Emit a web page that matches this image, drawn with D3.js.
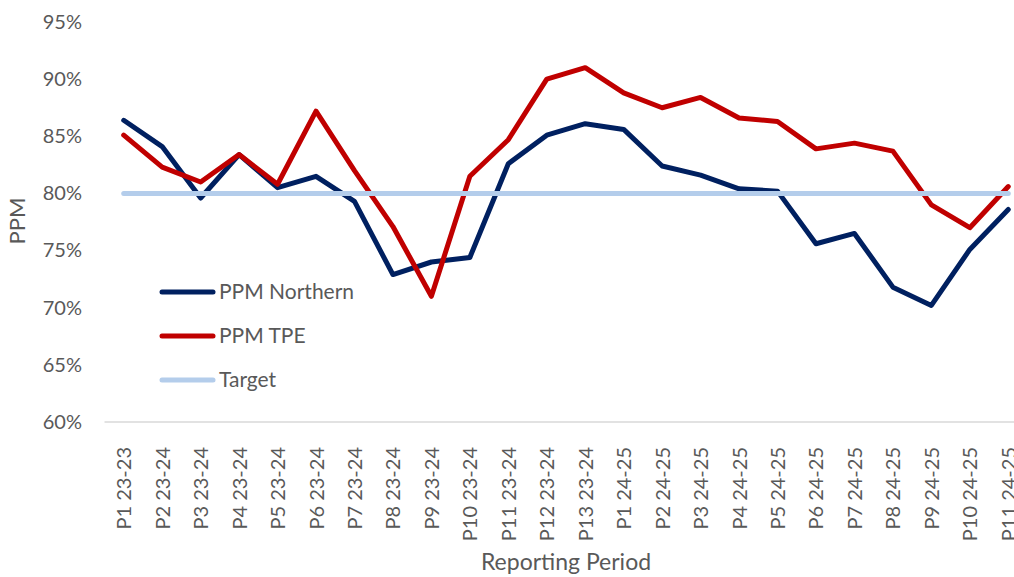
<!DOCTYPE html>
<html><head><meta charset="utf-8">
<script src="https://cdn.jsdelivr.net/npm/d3@7"></script>
<style>body{margin:0;background:#fff;}svg{display:block;}</style>
</head><body>
<svg id="c" width="1014" height="577"></svg>
<script>
const categories = ["P1 23-23","P2 23-24","P3 23-24","P4 23-24","P5 23-24","P6 23-24","P7 23-24","P8 23-24","P9 23-24","P10 23-24","P11 23-24","P12 23-24","P13 23-24","P1 24-25","P2 24-25","P3 24-25","P4 24-25","P5 24-25","P6 24-25","P7 24-25","P8 24-25","P9 24-25","P10 24-25","P11 24-25"];
const northern = [86.4,84.1,79.6,83.4,80.5,81.5,79.3,72.9,74.0,74.4,82.6,85.1,86.1,85.6,82.4,81.6,80.4,80.2,75.6,76.5,71.8,70.2,75.1,78.6];
const tpe = [85.1,82.3,81.0,83.4,80.8,87.2,82.0,77.1,71.0,81.5,84.7,90.0,91.0,88.8,87.5,88.4,86.6,86.3,83.9,84.4,83.7,79.0,77.0,80.6];
const target = categories.map(() => 80);
const yTicks = [60,65,70,75,80,85,90,95];
const seriesNames = ["PPM Northern","PPM TPE","Target"];
const seriesColors = ["#002060","#C00000","#B4CDEB"];

const svg = d3.select("#c");
const font = "Lato, 'Open Sans', sans-serif";
const x = d3.scalePoint().domain(categories).range([104.5, 1027.5]).padding(0.5);
const y = d3.scaleLinear().domain([60,95]).range([422,22]);

// y tick labels
const yAxis = d3.axisLeft(y).tickValues(yTicks).tickFormat(d => d + "%").tickSize(0).tickPadding(0);
const gy = svg.append("g").attr("transform","translate(82,0)").call(yAxis);
gy.select(".domain").remove();
gy.selectAll("text").attr("font-family",font).attr("font-size",20).attr("fill","#595959");

// x axis
const xAxis = d3.axisBottom(x).tickSize(0).tickPadding(0);
const gx = svg.append("g").attr("transform","translate(0,422)").call(xAxis);
gx.select(".domain").attr("stroke","#D9D9D9").attr("stroke-width",1.5).attr("d","M104.5,0H1027.5");
gx.selectAll("text").attr("font-family",font).attr("font-size",20).attr("fill","#595959")
  .attr("transform","rotate(-90)").attr("text-anchor","end").attr("dy","0.35em").attr("x",-25).attr("y",0);

// axis titles
svg.append("text").attr("transform","translate(25,221) rotate(-90)").attr("text-anchor","middle")
  .attr("font-family",font).attr("font-size",22).attr("fill","#595959").text("PPM");
svg.append("text").attr("x",566).attr("y",570).attr("text-anchor","middle")
  .attr("font-family",font).attr("font-size",23).attr("fill","#595959").text("Reporting Period");

// lines
const line = d3.line().x((d,i) => x(categories[i])).y(d => y(d));
const data = [northern, tpe, target];
[0,1,2].forEach(k => {
  svg.append("path").datum(data[k]).attr("d", line).attr("fill","none")
    .attr("stroke", seriesColors[k]).attr("stroke-width", 5)
    .attr("stroke-linejoin","round").attr("stroke-linecap","round");
});
// legend
const lg = svg.append("g");
seriesNames.forEach((n,i) => {
  const yy = 292 + i*44;
  lg.append("line").attr("x1",162).attr("x2",213).attr("y1",yy).attr("y2",yy)
    .attr("stroke",seriesColors[i]).attr("stroke-width",5).attr("stroke-linecap","round");
  lg.append("text").attr("x",219).attr("y",yy).attr("dy","0.35em")
    .attr("font-family",font).attr("font-size",21).attr("fill","#595959").text(n);
});
</script>
</body></html>
